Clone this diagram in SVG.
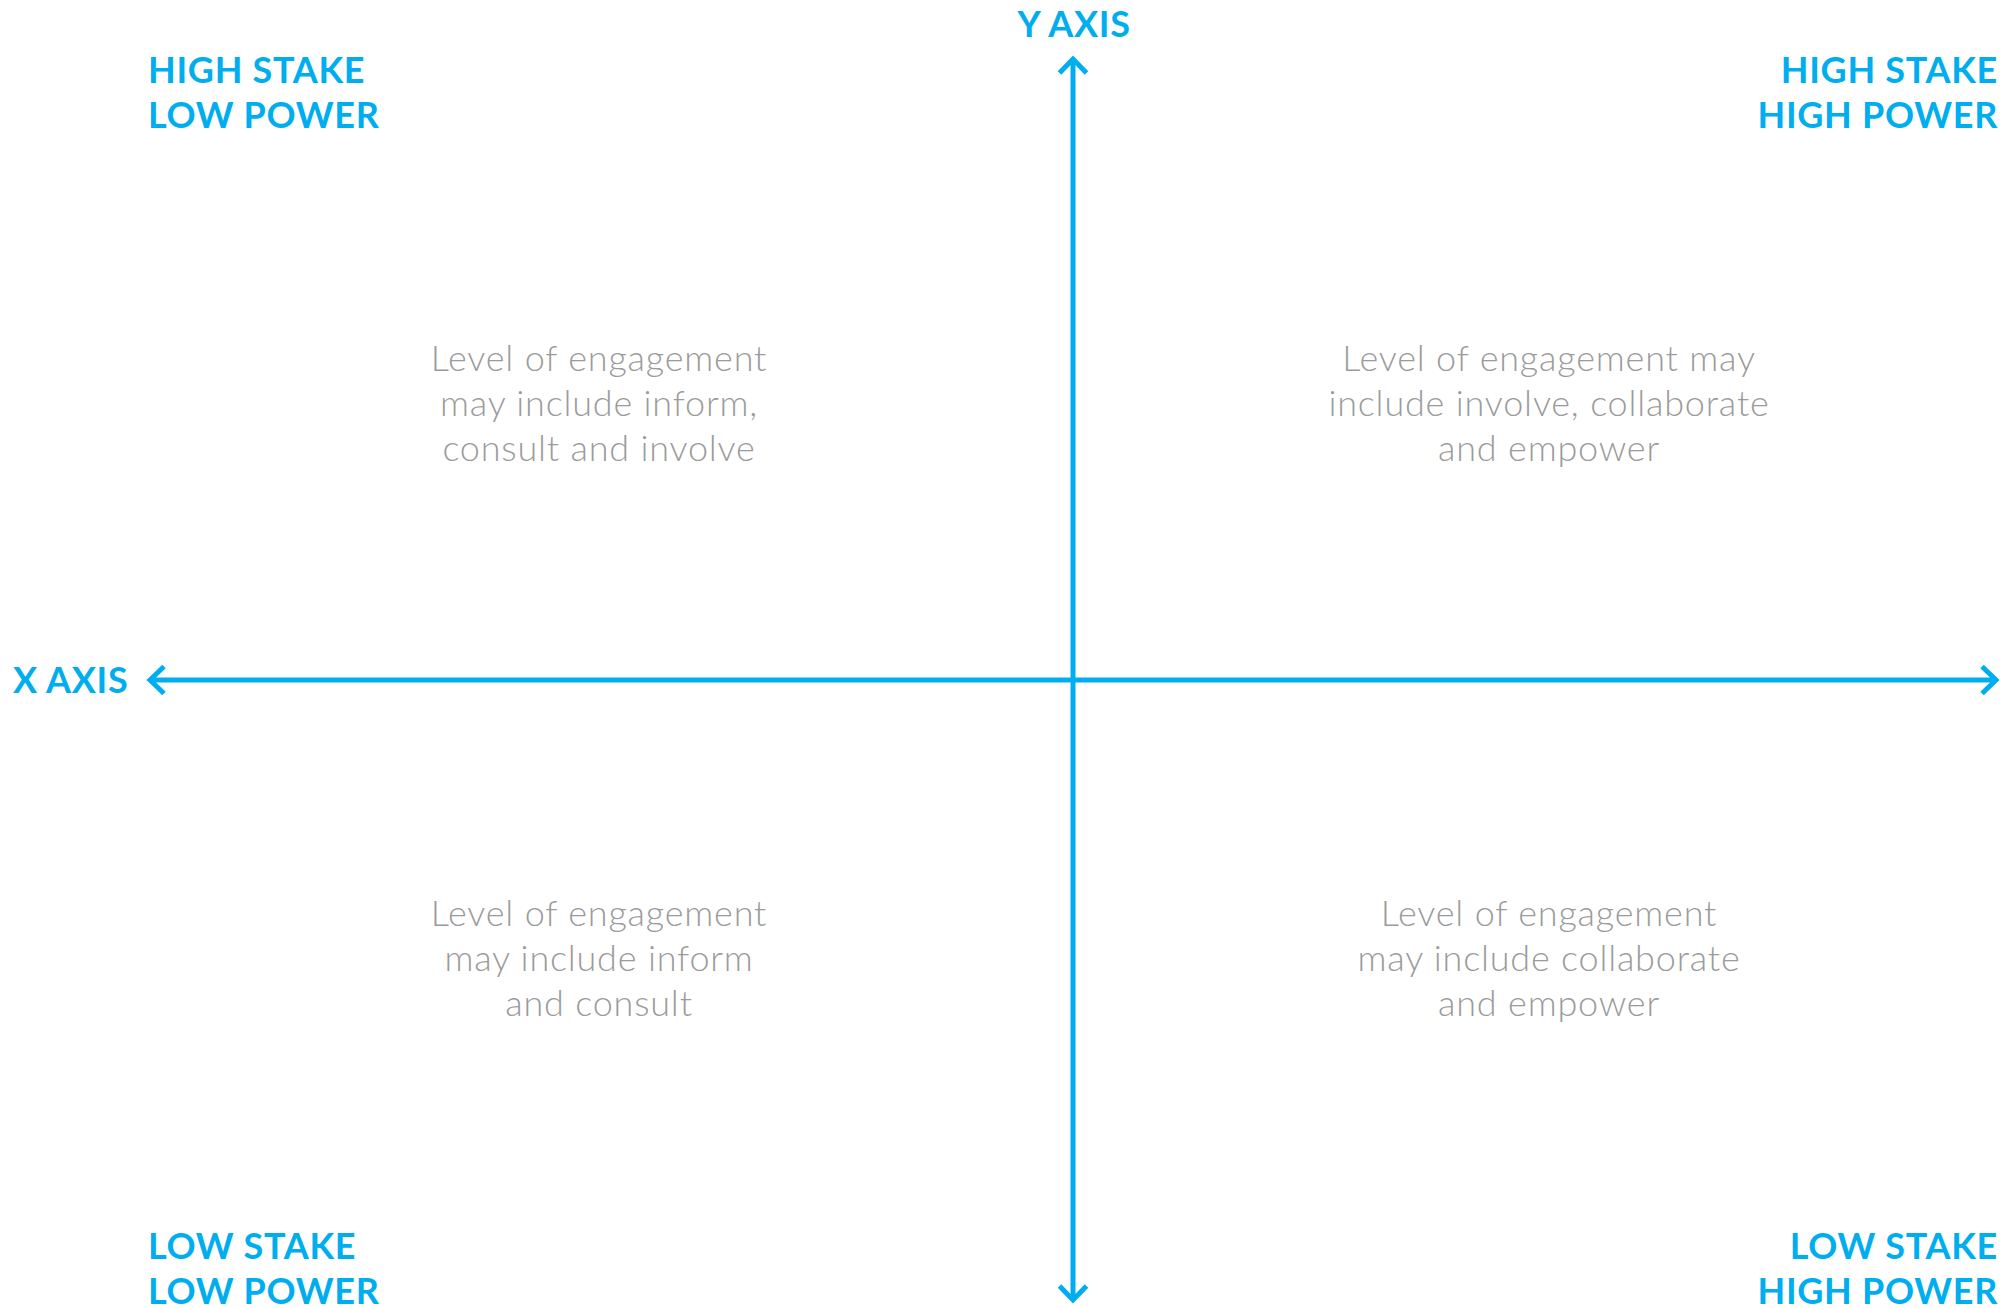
<svg xmlns="http://www.w3.org/2000/svg" width="2013" height="1308" viewBox="0 0 2013 1308">
<style>
.lbl{font-family:Lato,"Liberation Sans",sans-serif;font-weight:700;font-size:36px;fill:#00AEEF;letter-spacing:0.7px}
.body{font-family:Lato,"Liberation Sans",sans-serif;font-weight:300;font-size:36px;fill:#9B9B9B;text-anchor:middle;letter-spacing:0.8px}
.axis{stroke:#00AEEF;stroke-width:5;fill:none}
</style>
<defs>
<marker id="arr" markerUnits="userSpaceOnUse" markerWidth="40" markerHeight="40" viewBox="-20 -20 40 40" refX="0" refY="0" orient="auto-start-reverse" overflow="visible">
<path d="M-14,-13.5 L0,0 L-14,13.5" fill="none" stroke="#00AEEF" stroke-width="5"/>
</marker>
</defs>
<rect width="2013" height="1308" fill="#FFFFFF"/>
<g id="connectors">
<line class="axis" x1="150" y1="680" x2="1996" y2="680" marker-start="url(#arr)" marker-end="url(#arr)"/>
<line class="axis" x1="1073" y1="59" x2="1073" y2="1300" marker-start="url(#arr)" marker-end="url(#arr)"/>
</g>
<g id="x-axis-label"><text class="lbl" x="13" y="693">X AXIS</text></g>
<g id="y-axis-label"><text class="lbl" x="1074" y="37" text-anchor="middle">Y AXIS</text></g>
<g id="high-stake-low-power">
<text class="lbl" x="148" y="83">HIGH STAKE</text>
<text class="lbl" x="148" y="128">LOW POWER</text>
</g>
<g id="high-stake-high-power">
<text class="lbl" x="1998" y="83" text-anchor="end">HIGH STAKE</text>
<text class="lbl" x="1998" y="128" text-anchor="end">HIGH POWER</text>
</g>
<g id="low-stake-low-power">
<text class="lbl" x="148" y="1259">LOW STAKE</text>
<text class="lbl" x="148" y="1304">LOW POWER</text>
</g>
<g id="low-stake-high-power">
<text class="lbl" x="1998" y="1259" text-anchor="end">LOW STAKE</text>
<text class="lbl" x="1998" y="1304" text-anchor="end">HIGH POWER</text>
</g>
<g id="q-top-left">
<text class="body" x="599" y="371">Level of engagement</text>
<text class="body" x="599" y="416">may include inform,</text>
<text class="body" x="599" y="461">consult and involve</text>
</g>
<g id="q-top-right">
<text class="body" x="1549" y="371">Level of engagement may</text>
<text class="body" x="1549" y="416">include involve, collaborate</text>
<text class="body" x="1549" y="461">and empower</text>
</g>
<g id="q-bottom-left">
<text class="body" x="599" y="926">Level of engagement</text>
<text class="body" x="599" y="971">may include inform</text>
<text class="body" x="599" y="1016">and consult</text>
</g>
<g id="q-bottom-right">
<text class="body" x="1549" y="926">Level of engagement</text>
<text class="body" x="1549" y="971">may include collaborate</text>
<text class="body" x="1549" y="1016">and empower</text>
</g>
</svg>
